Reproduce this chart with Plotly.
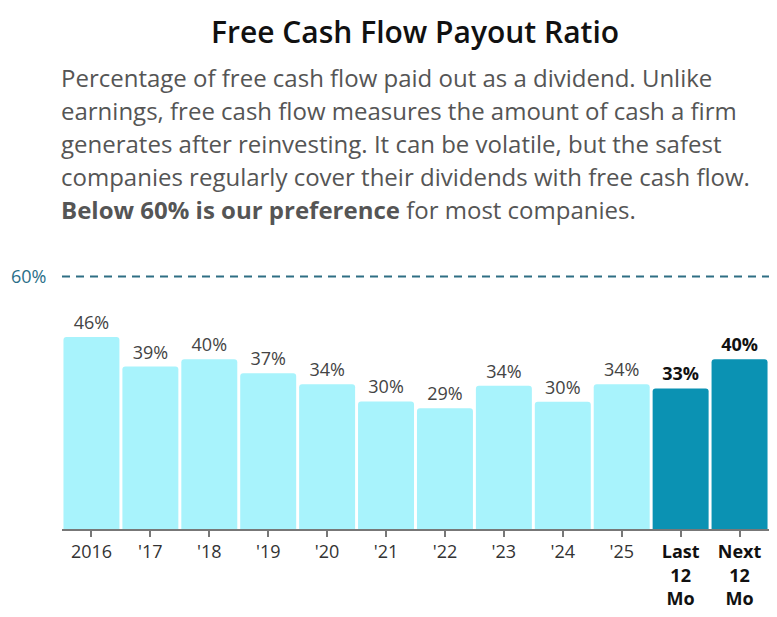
import plotly.graph_objects as go

# chart data (bar heights; labels show them rounded)
categories = ["2016", "'17", "'18", "'19", "'20", "'21", "'22", "'23", "'24", "'25", "Last 12 Mo", "Next 12 Mo"]
tick_labels = ["2016", "'17", "'18", "'19", "'20", "'21", "'22", "'23", "'24", "'25",
               "Last<br>12<br>Mo", "Next<br>12<br>Mo"]
payout = [45.6, 38.6, 40.3, 37.0, 34.4, 30.3, 28.7, 34.0, 30.2, 34.4, 33.4, 40.3]
is_current = [False] * 10 + [True, True]
preference = 60

title_text = "Free Cash Flow Payout Ratio"
subtitle_lines = [
    "Percentage of free cash flow paid out as a dividend. Unlike",
    "earnings, free cash flow measures the amount of cash a firm",
    "generates after reinvesting. It can be volatile, but the safest",
    "companies regularly cover their dividends with free cash flow.",
    "<b>Below 60% is our preference</b> for most companies.",
]

bar_colors = ["#0b92b3" if c else "#a8f3fc" for c in is_current]
label_text = ["<b>%.0f%%</b>" % v if c else "%.0f%%" % v for v, c in zip(payout, is_current)]
label_colors = ["#111111" if c else "#444444" for c in is_current]
tick_text = []
for t, c in zip(tick_labels, is_current):
    if c:
        t = "<br>".join("<span style='color:#111111'><b>%s</b></span>" % p for p in t.split("<br>"))
    tick_text.append(t)

# the page adds an 8px body margin, so the layout is offset to compensate
off = 8
y_max = 62
left, right, base = 62 - off, 769 - off, 529 - off
top = base - round(y_max * 4.21)

fig = go.Figure()
fig.add_trace(go.Bar(
    x=categories, y=payout,
    marker=dict(color=bar_colors, line=dict(width=0)),
    text=label_text, textposition="outside", cliponaxis=False,
    textfont=dict(family="Open Sans", size=18, color=label_colors),
    hoverinfo="skip",
))

# preference line
fig.add_shape(type="line", xref="paper", yref="y", x0=0, x1=1, y0=preference, y1=preference,
              line=dict(color="#2e6e84", width=2, dash="8px,6px"))
fig.add_annotation(xref="paper", yref="y", x=0, y=preference, xanchor="right", xshift=-(left - 48 + off),
                   text="%d%%" % preference, showarrow=False,
                   font=dict(family="Open Sans", size=18, color="#2a6f88"))

fig.add_annotation(xref="paper", yref="paper", x=0.5, y=1, yanchor="middle",
                   xshift=(415 - off - (left + right) / 2), yshift=top - (31 - off),
                   text=title_text, showarrow=False,
                   font=dict(family="Open Sans", size=30, color="#111111", weight=600))
for i, line in enumerate(subtitle_lines):
    fig.add_annotation(xref="paper", yref="paper", x=0, y=1, xanchor="left", yanchor="middle",
                       xshift=-3, yshift=top - (77 - off) - 33 * i, text=line, showarrow=False,
                       font=dict(family="Open Sans", size=24, color="#555555"))

fig.update_layout(
    width=777, height=617,
    margin=dict(l=left, r=777 - right, t=top, b=617 - base),
    paper_bgcolor="white", plot_bgcolor="white",
    bargap=0.05, barcornerradius=3,
    showlegend=False,
    font=dict(family="Open Sans"),
)
fig.update_xaxes(
    tickvals=categories, ticktext=tick_text,
    showline=True, linecolor="#777777", linewidth=1.5,
    ticks="outside", ticklen=6, tickcolor="#777777", tickwidth=2,
    tickfont=dict(family="Open Sans", size=18, color="#333333"),
    showgrid=False, fixedrange=True,
)
fig.update_yaxes(range=[0, y_max], visible=False, showgrid=False, fixedrange=True)

fig.write_html("out.html", config={"displayModeBar": False})
